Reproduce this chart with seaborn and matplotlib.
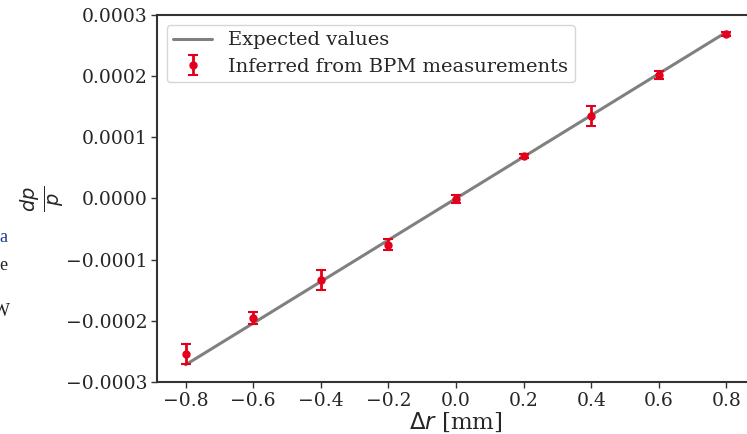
import numpy as np
import pandas as pd
import matplotlib
matplotlib.use("Agg")
import matplotlib.pyplot as plt
import seaborn as sns

# offset of the orbit [mm]
delta_r = [-0.8, -0.6, -0.4, -0.2, 0.0, 0.2, 0.4, 0.6, 0.8]
# expected momentum offset dp/p
expected = [-2.72e-4, -2.04e-4, -1.36e-4, -0.68e-4, 0.0, 0.68e-4, 1.36e-4, 2.04e-4, 2.72e-4]
# dp/p inferred from BPM data, with errors
measured = [-2.54e-4, -1.95e-4, -1.33e-4, -0.76e-4, -0.01e-4, 0.69e-4, 1.35e-4, 2.02e-4, 2.69e-4]
measured_err = [0.16e-4, 0.10e-4, 0.16e-4, 0.09e-4, 0.07e-4, 0.03e-4, 0.16e-4, 0.06e-4, 0.03e-4]
ytick_vals = [-0.0003, -0.0002, -0.0001, 0.0, 0.0001, 0.0002, 0.0003]
xtick_vals = [-0.8, -0.6, -0.4, -0.2, 0.0, 0.2, 0.4, 0.6, 0.8]

df = pd.DataFrame({"dr": delta_r, "expected": expected})

sns.set_style("ticks")
plt.rcParams["font.family"] = ["DejaVu Serif"]
plt.rcParams["mathtext.fontset"] = "dejavusans"

fig = plt.figure(figsize=(7.47, 4.34), dpi=100)
ax = fig.add_axes([0.210, 0.120, 0.801, 0.8456])

sns.lineplot(data=df, x="dr", y="expected", ax=ax, color="grey", linewidth=2.2,
             label="Expected values")
ax.errorbar(delta_r, measured, yerr=measured_err, fmt="o", color="#e3001b",
            markersize=5, elinewidth=2, capsize=3.5, capthick=1.5,
            label="Inferred from BPM measurements")

ax.set_xlim(-0.885, 0.885)
ax.set_ylim(-0.0003, 0.0003)
ax.set_xticks(xtick_vals)
ax.set_yticks(ytick_vals)
ax.set_xticklabels([f"{v:.1f}".replace("-", "\u2212") for v in xtick_vals])
ax.set_yticklabels([f"{v:.4f}".replace("-", "\u2212") for v in ytick_vals])
ax.tick_params(labelsize=13.5, length=4, width=1, color="#333333", pad=3)

for s in ax.spines.values():
    s.set_color("#333333")
    s.set_linewidth(1.5)

ax.set_xlabel(r"$\Delta r$ [mm]", fontsize=16.5, labelpad=1)
ax.set_ylabel(r"$\frac{dp}{p}$", fontsize=20, labelpad=0)

ax.legend(loc="upper left", fontsize=14, frameon=True, borderaxespad=0.5,
          handlelength=2.0, borderpad=0.35, labelspacing=0.42)

# fragments of the surrounding page, cut at the left edge
fig.text(0.004, 1 - 238 / 434, "a", fontsize=13, color="#1f3a93", ha="center", va="center",
         family=["Liberation Serif"])
fig.text(0.004, 1 - 265 / 434, "e", fontsize=13, color="#222222", ha="center", va="center",
         family=["Liberation Serif"])
fig.text(0.002, 1 - 311 / 434, "W", fontsize=13, color="#222222", ha="center", va="center",
         family=["Liberation Serif"])

fig.savefig("out.png", dpi=100)
plt.close(fig)
